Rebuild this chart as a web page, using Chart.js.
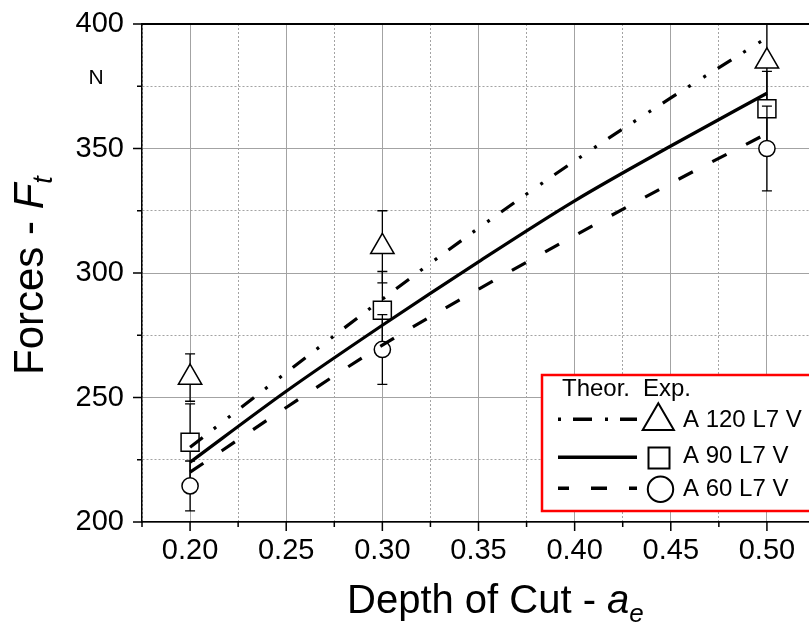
<!DOCTYPE html>
<html><head><meta charset="utf-8">
<script src="https://cdn.jsdelivr.net/npm/chart.js@4"></script>
<style>html,body{margin:0;padding:0;overflow:hidden;background:#fff}#wrap{width:830px;height:630px}</style>
</head><body><div id="wrap"><canvas id="c" width="830" height="630"></canvas></div>
<script>
// ---- data ----
const depthExp = [0.20, 0.30, 0.50];
const expA120 = [258, 310.5, 385];
const errA120 = [9.5, 14.5, 16];
const expA90 = [232, 285, 366];
const errA90 = [15.4, 15.6, 15];
const expA60 = [214.5, 269.3, 350];
const errA60 = [10, 14, 17];
const depthTheor = [0.20, 0.25, 0.30, 0.35, 0.40, 0.45, 0.50];
const theorA120 = [230, 260, 289.5, 318, 345, 370.3, 394.5];
const theorA90 = [224, 252.5, 279, 304.5, 329, 351, 372.2];
const theorA60 = [220, 246, 271, 293.5, 315, 336, 356];
const xMajorTicks = [0.20, 0.25, 0.30, 0.35, 0.40, 0.45, 0.50];
const xMinorTicks = [0.175, 0.225, 0.275, 0.325, 0.375, 0.425, 0.475, 0.525];
const yMajorTicks = [200, 250, 300, 350, 400];
const yMinorTicks = [225, 275, 325, 375];
const legendLabels = ['A 120 L7 V', 'A 90 L7 V', 'A 60 L7 V'];
const legendHeader = ['Theor.', 'Exp.'];
const xTitle = ['Depth of Cut - ', 'a', 'e'];
const yTitle = ['Forces - ', 'F', 't'];
const yUnit = 'N';

const FONT = "'Liberation Sans', Arial, sans-serif";
const DASH120 = [16, 14, 3, 15, 3, 14];
const DASH60 = [16, 22];
const GRID = '#a3a3a3';

const isIn = (arr, v) => arr.some(t => Math.abs(t - v) < 1e-9);
const pts = (xs, ys) => xs.map((x, i) => ({x, y: ys[i]}));

const errorBars = {
  id: 'errorBars',
  beforeDatasetDraw(chart, args) {
    const ds = chart.data.datasets[args.index];
    if (!ds.errors) return;
    const {ctx, chartArea: a, scales: {x, y}} = chart;
    ctx.save();
    ctx.beginPath(); ctx.rect(a.left, a.top, a.right - a.left, a.bottom - a.top); ctx.clip();
    ctx.strokeStyle = '#000'; ctx.lineWidth = 1.3;
    ds.data.forEach((p, i) => {
      const px = x.getPixelForValue(p.x);
      const yt = y.getPixelForValue(p.y + ds.errors[i]);
      const yb = y.getPixelForValue(p.y - ds.errors[i]);
      ctx.beginPath();
      ctx.moveTo(px, yt); ctx.lineTo(px, yb);
      ctx.moveTo(px - 5, yt); ctx.lineTo(px + 5, yt);
      ctx.moveTo(px - 5, yb); ctx.lineTo(px + 5, yb);
      ctx.stroke();
    });
    ctx.restore();
  }
};

const frame = {
  id: 'frame',
  afterDraw(chart) {
    const {ctx: c, chartArea: a, scales: {x, y}} = chart;
    c.save();
    c.strokeStyle = '#000';
    c.lineWidth = 2;
    c.beginPath(); c.moveTo(a.left - 1, a.top); c.lineTo(a.right, a.top); c.stroke();
    c.lineWidth = 1.5;
    c.beginPath();
    xMajorTicks.forEach(v => { const p = x.getPixelForValue(v); c.moveTo(p, a.bottom); c.lineTo(p, a.bottom + 9); });
    xMinorTicks.forEach(v => { const p = x.getPixelForValue(v); c.moveTo(p, a.bottom); c.lineTo(p, a.bottom + 5); });
    yMajorTicks.forEach(v => { const p = y.getPixelForValue(v); c.moveTo(a.left, p); c.lineTo(a.left - 9, p); });
    yMinorTicks.forEach(v => { const p = y.getPixelForValue(v); c.moveTo(a.left, p); c.lineTo(a.left - 5, p); });
    c.stroke();

    // titles
    c.fillStyle = '#000';
    c.textBaseline = 'alphabetic';
    const rich = (parts, x0, y0) => {
      let dx = 0;
      parts.forEach(p => { c.font = p.f; c.fillText(p.t, x0 + dx, y0 + (p.dy || 0)); dx += c.measureText(p.t).width; });
    };
    rich([{t: xTitle[0], f: '40px ' + FONT}, {t: xTitle[1], f: 'italic 40px ' + FONT}, {t: xTitle[2], f: 'italic 26px ' + FONT, dy: 9}], 347, 613);
    c.save();
    c.translate(43, 375); c.rotate(-Math.PI / 2);
    rich([{t: yTitle[0], f: '42px ' + FONT}, {t: yTitle[1], f: 'italic 42px ' + FONT}, {t: yTitle[2], f: 'italic 27px ' + FONT, dy: 9}], 0, 0);
    c.restore();
    c.font = '21px ' + FONT; c.textAlign = 'center';
    c.fillText(yUnit, 96, 83.5);
    c.textAlign = 'left';

    // legend
    c.fillStyle = '#fff'; c.fillRect(542, 375, 290, 136);
    c.strokeStyle = '#ff0000'; c.lineWidth = 2.5; c.strokeRect(542, 375, 290, 136);
    c.fillStyle = '#000'; c.font = '24px ' + FONT;
    c.fillText(legendHeader[0], 562, 396);
    c.fillText(legendHeader[1], 643, 396);
    const lineY = [419.3, 457.3, 488.3];
    const textY = [427.3, 463, 496];
    const dashes = [[3, 12, 19, 13], [], DASH60];
    const offs = [0, 0, 5];
    c.strokeStyle = '#000'; c.lineWidth = 3.4; c.lineCap = 'butt';
    for (let i = 0; i < 3; i++) {
      c.setLineDash(dashes[i]); c.lineDashOffset = offs[i];
      c.beginPath(); c.moveTo(558, lineY[i]); c.lineTo(637, lineY[i]); c.stroke();
    }
    c.setLineDash([]);
    c.lineWidth = 2; c.fillStyle = '#fff';
    c.beginPath(); c.moveTo(658.3, 403.3); c.lineTo(673.9, 430); c.lineTo(642.7, 430); c.closePath(); c.fill(); c.stroke();
    c.beginPath(); c.rect(648.5, 447.5, 21, 21); c.fill(); c.stroke();
    c.beginPath(); c.arc(660.5, 489.3, 12.7, 0, Math.PI * 2); c.fill(); c.stroke();
    c.fillStyle = '#000'; c.font = '24px ' + FONT;
    legendLabels.forEach((t, i) => c.fillText(t, 683, textY[i]));
    c.restore();
  }
};

const expStyle = {showLine: false, pointBorderColor: '#000', pointBackgroundColor: '#fff', pointBorderWidth: 1.5, pointHoverRadius: 0};
const thStyle = {showLine: true, borderColor: '#000', borderWidth: 3.2, pointRadius: 0, pointHoverRadius: 0, cubicInterpolationMode: 'monotone', fill: false};

new Chart(document.getElementById('c'), {
  type: 'scatter',
  data: {datasets: [
    Object.assign({label: legendLabels[0] + ' Exp.', data: pts(depthExp, expA120), errors: errA120, pointStyle: 'triangle', pointRadius: 13.5, order: 6}, expStyle),
    Object.assign({label: legendLabels[1] + ' Exp.', data: pts(depthExp, expA90), errors: errA90, pointStyle: 'rect', pointRadius: 12.7, order: 5}, expStyle),
    Object.assign({label: legendLabels[2] + ' Exp.', data: pts(depthExp, expA60), errors: errA60, pointStyle: 'circle', pointRadius: 8.1, order: 4}, expStyle),
    Object.assign({label: legendLabels[0] + ' Theor.', data: pts(depthTheor, theorA120), borderDash: DASH120, order: 3}, thStyle),
    Object.assign({label: legendLabels[1] + ' Theor.', data: pts(depthTheor, theorA90), order: 2}, thStyle),
    Object.assign({label: legendLabels[2] + ' Theor.', data: pts(depthTheor, theorA60), borderDash: DASH60, order: 1}, thStyle)
  ]},
  options: {
    responsive: false, animation: false, devicePixelRatio: 1,
    layout: {padding: {top: 24, right: 12, left: 0, bottom: 0}},
    plugins: {legend: {display: false}, tooltip: {enabled: false}},
    events: [],
    scales: {
      x: {
        type: 'linear', min: 0.175, max: 0.525,
        afterBuildTicks(s) { s.ticks = [...xMajorTicks, ...xMinorTicks].sort((a, b) => a - b).map(v => ({value: v})); },
        afterFit(s) { s.height = 108; s.paddingLeft = 0; s.paddingRight = 0; },
        ticks: {autoSkip: false, maxRotation: 0, padding: 12, color: '#000', font: {size: 29, family: FONT},
          callback: v => isIn(xMajorTicks, v) ? v.toFixed(2) : ''},
        grid: {drawTicks: false, lineWidth: 1, color: GRID},
        border: {color: '#000', width: 1.5, dash: ctx => (ctx.tick && !isIn(xMajorTicks, ctx.tick.value)) ? [2, 2] : []}
      },
      y: {
        type: 'linear', min: 200, max: 400,
        afterBuildTicks(s) { s.ticks = [...yMajorTicks, ...yMinorTicks].sort((a, b) => a - b).map(v => ({value: v})); },
        afterFit(s) { s.width = 142; s.paddingTop = 0; s.paddingBottom = 0; },
        ticks: {autoSkip: false, padding: 18, color: '#000', font: {size: 29, family: FONT},
          callback: v => isIn(yMajorTicks, v) ? String(v) : ''},
        grid: {drawTicks: false, lineWidth: 1, color: GRID},
        border: {color: '#000', width: 1.5, dash: ctx => (ctx.tick && !isIn(yMajorTicks, ctx.tick.value)) ? [2, 2] : []}
      }
    }
  },
  plugins: [errorBars, frame]
});
</script>
</body></html>
